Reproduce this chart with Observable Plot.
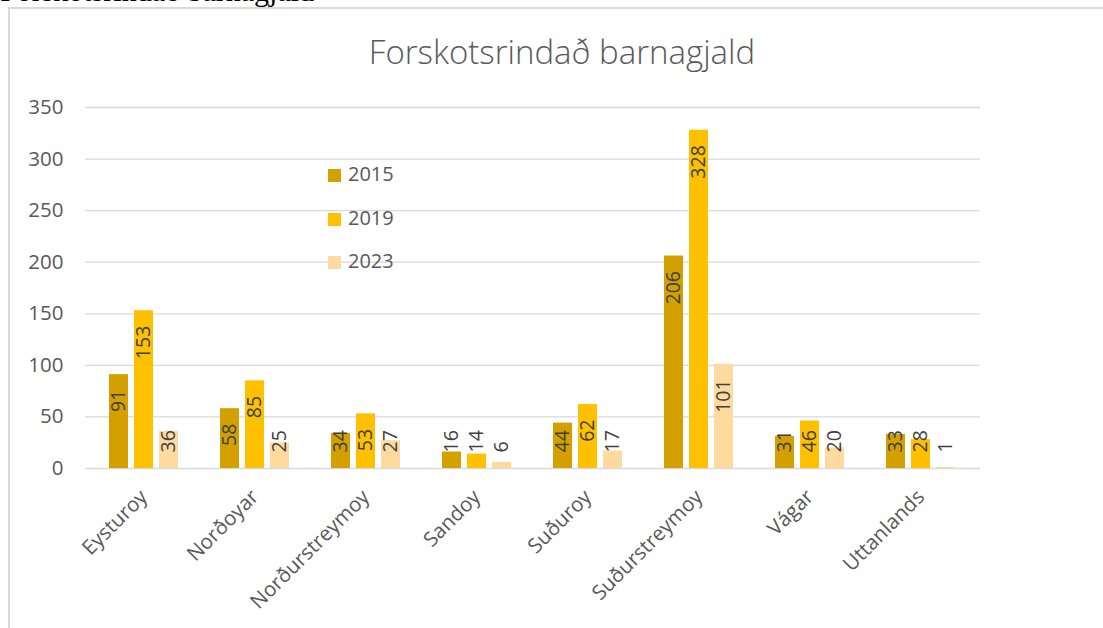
<!DOCTYPE html>
<html>
<head>
<meta charset="utf-8">
<script src="https://cdn.jsdelivr.net/npm/d3@7"></script>
<script src="https://cdn.jsdelivr.net/npm/@observablehq/plot@0.6"></script>
<style>
  html, body { margin: 0; padding: 0; background: #fff; }
  #wrap { position: relative; width: 1103px; height: 628px; overflow: hidden; font-family: "Open Sans", sans-serif; }
  #cut { position: absolute; left: 0; top: -24px; font-family: "Liberation Serif", "Times New Roman", serif; font-size: 30px; line-height: 30px; color: #000; white-space: nowrap; }
  #frame { position: absolute; left: 8px; top: 7px; width: 1300px; height: 800px; border: 2px solid #d9d9d9; box-sizing: border-box; }
  #fig { position: absolute; left: 0; top: 0; width: 1103px; }
  #title { height: 80px; box-sizing: border-box; padding-top: 33px; padding-left: 21px; text-align: center; font-size: 33px; font-weight: 300; line-height: 38px; color: #595959; }
  #fig svg { display: block; }
  .lg { position: absolute; left: 328px; height: 13px; }
  .lg .sw { position: absolute; left: 0; top: 0; width: 13px; height: 13px; }
  .lg .tx { position: absolute; left: 20px; top: -5px; font-size: 20px; line-height: 20px; color: #595959; white-space: nowrap; }
</style>
</head>
<body>
<div id="wrap">
  <div id="cut">Forskotsrindað barnagjald</div>
  <div id="frame"></div>
  <div id="fig">
    <div id="title">Forskotsrindað barnagjald</div>
  </div>
  <div id="legend"></div>
</div>
<script>
const categories = ["Eysturoy", "Norðoyar", "Norðurstreymoy", "Sandoy", "Suðuroy", "Suðurstreymoy", "Vágar", "Uttanlands"];
const years = ["2015", "2019", "2023"];
const values2015 = [91, 58, 34, 16, 44, 206, 31, 33];
const values2019 = [153, 85, 53, 14, 62, 328, 46, 28];
const values2023 = [36, 25, 27, 6, 17, 101, 20, 1];
const yTicks = [0, 50, 100, 150, 200, 250, 300, 350];
const colors = ["#D4A000", "#FFC000", "#FFDA9E"];

const seriesValues = [values2015, values2019, values2023];
const data = [];
years.forEach((yr, i) => categories.forEach((c, j) => data.push({category: c, year: yr, value: seriesValues[i][j]})));

const W = 1103, H = 548, mT = 27, mB = 160, mL = 85, mR = 123;
const yMax = 350;
const k = (H - mT - mB) / yMax; // px per unit
const fits = d => d.value * k >= 31 + String(d.value).length * 11;
const offsets = [-25, 0, 25];

const marks = [
  Plot.gridY({ticks: yTicks, stroke: "#d9d9d9", strokeOpacity: 1, strokeWidth: 1.3}),
  Plot.axisY({ticks: yTicks, tickSize: 0, tickPadding: 22, fontSize: 20.5, label: null}),
  Plot.axisX({tickRotate: -45, tickSize: 0, tickPadding: 25, fontSize: 20.5, label: null})
];
years.forEach((yr, i) => {
  const rows = data.filter(d => d.year === yr);
  marks.push(Plot.barY(rows, {x: "category", y: "value", fill: "year", insetLeft: 25, insetRight: 25, dx: offsets[i]}));
  marks.push(Plot.text(rows.filter(fits), {x: "category", y: "value", text: d => String(d.value), rotate: -90, textAnchor: "end", dx: offsets[i], dy: 15, fontSize: 19.5, fill: "#404040"}));
  marks.push(Plot.text(rows.filter(d => !fits(d)), {x: "category", y: () => 0, text: d => String(d.value), rotate: -90, textAnchor: "start", dx: offsets[i], dy: -16, fontSize: 19.5, fill: "#404040"}));
});

const chart = Plot.plot({
  width: W, height: H,
  marginTop: mT, marginBottom: mB, marginLeft: mL, marginRight: mR,
  style: {color: "#595959", fontFamily: "Open Sans, sans-serif", background: "transparent", overflow: "visible"},
  x: {domain: categories, paddingInner: 0.375, paddingOuter: 0.1875, label: null},
  y: {domain: [0, yMax], label: null},
  color: {domain: years, range: colors},
  marks
});
document.getElementById("fig").appendChild(chart);

const lg = document.getElementById("legend");
years.forEach((yr, i) => {
  const row = document.createElement("div");
  row.className = "lg";
  row.style.top = (169 + i * 43.5) + "px";
  row.innerHTML = `<div class="sw" style="background:${colors[i]}"></div><div class="tx">${yr}</div>`;
  lg.appendChild(row);
});
</script>
</body>
</html>
